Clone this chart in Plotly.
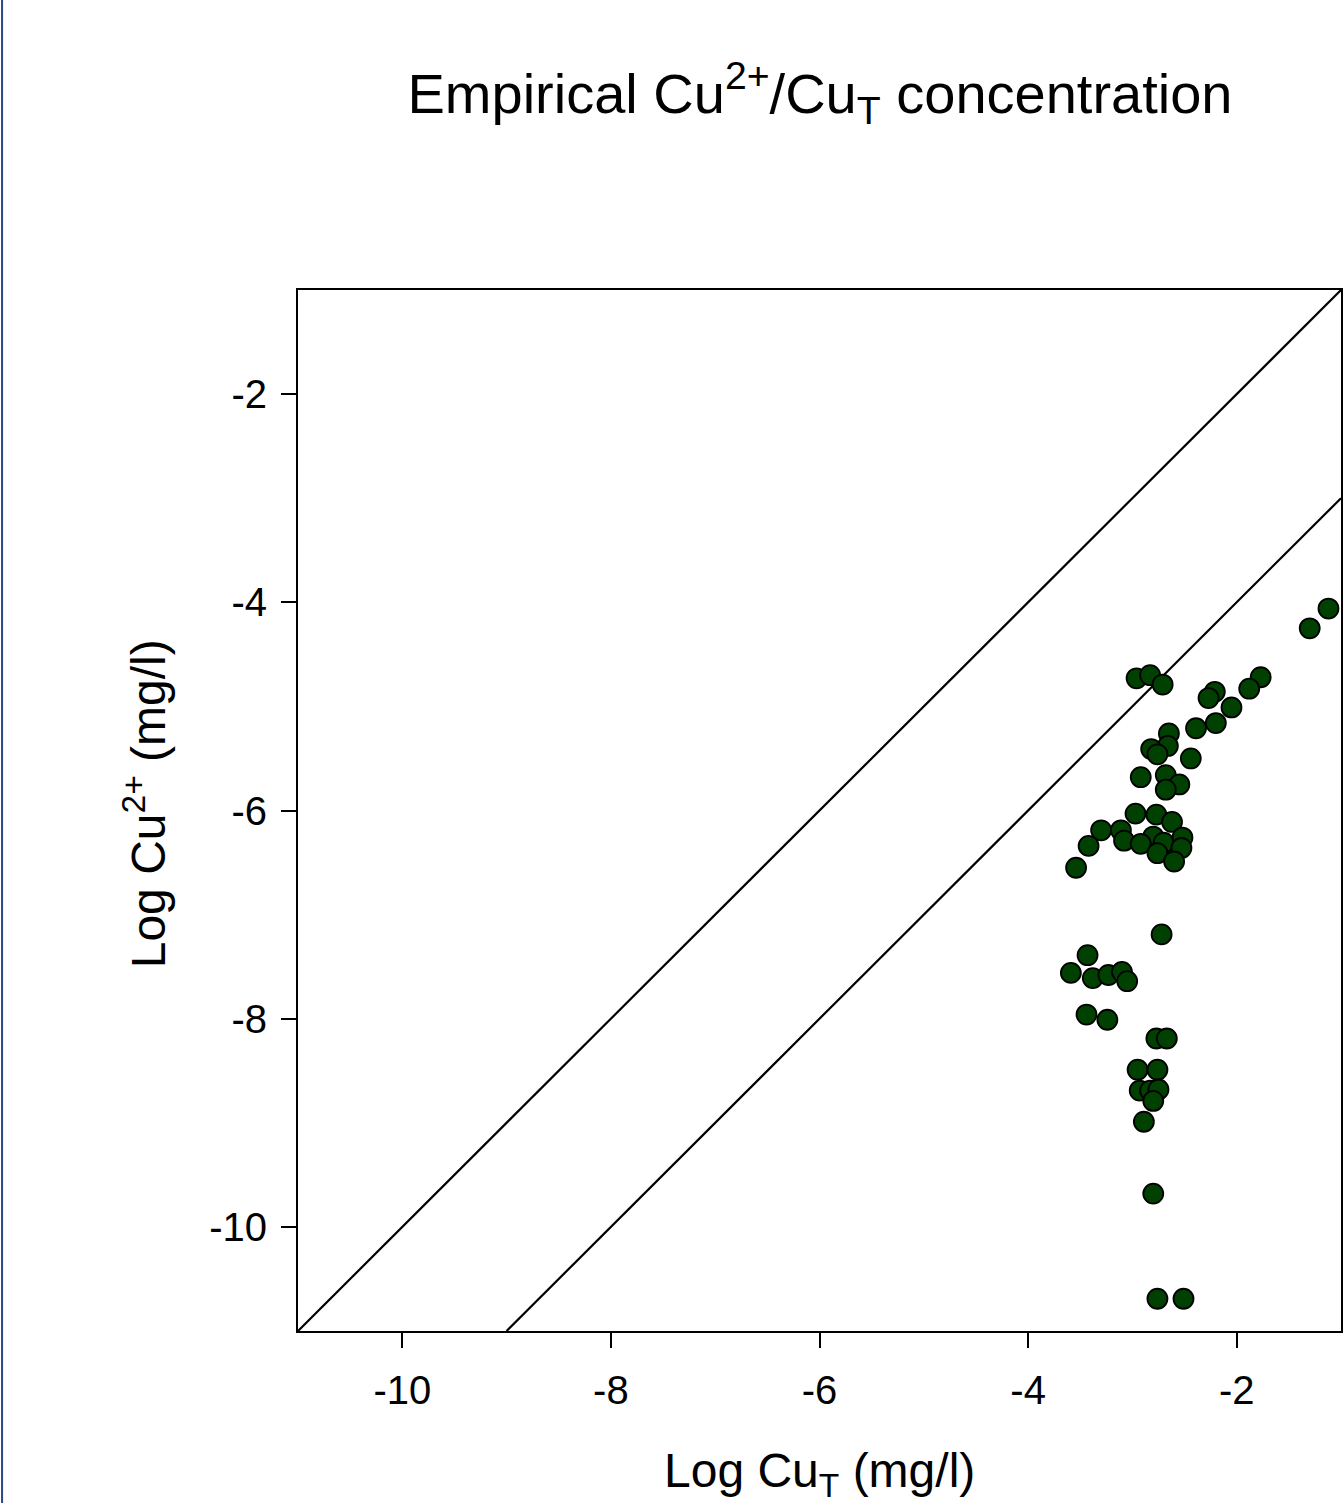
import plotly.graph_objects as go

# Scatter data: Log CuT (x) vs Log Cu2+ (y), mg/l
log_cu_t = [
    -1.12, -1.30, -2.96, -2.83, -2.71, -2.21, -2.27, -1.77, -1.88, -2.05,
    -2.20, -2.39, -2.65, -2.66, -2.82, -2.76, -2.44, -2.92, -2.68, -2.55,
    -2.68, -2.97, -2.77, -2.62, -3.30, -3.11, -3.08, -3.42, -2.80, -2.70,
    -2.92, -2.52, -2.53, -2.76, -2.60, -3.54,
    -2.72, -3.43, -3.59, -3.38, -3.23, -3.10, -3.05, -3.44, -3.24, -2.77,
    -2.67, -2.95, -2.76, -2.93, -2.83, -2.75, -2.80, -2.89, -2.80, -2.76,
    -2.51,
]
log_cu2 = [
    -4.06, -4.25, -4.73, -4.70, -4.79, -4.86, -4.92, -4.72, -4.83, -5.01,
    -5.16, -5.21, -5.26, -5.38, -5.41, -5.46, -5.50, -5.68, -5.66, -5.75,
    -5.80, -6.03, -6.04, -6.11, -6.19, -6.19, -6.29, -6.34, -6.25, -6.31,
    -6.32, -6.26, -6.36, -6.41, -6.49, -6.55,
    -7.19, -7.39, -7.56, -7.61, -7.58, -7.55, -7.64, -7.96, -8.01, -8.19,
    -8.19, -8.49, -8.49, -8.69, -8.69, -8.68, -8.79, -8.99, -9.68, -10.69,
    -10.69,
]

# Reference lines: 1:1 line and 1:100 line (offset of -2 log units)
line_1to1_x = [-11, -1]
line_1to1_y = [-11, -1]
line_offset_x = [-9, -1]
line_offset_y = [-11, -3]

tick_vals = [-10, -8, -6, -4, -2]
tick_text = ["-10", "-8", "-6", "-4", "-2"]

FONT = "Liberation Sans, Arial, sans-serif"

fig = go.Figure()
fig.add_trace(go.Scatter(x=line_1to1_x, y=line_1to1_y, mode="lines",
                         line=dict(color="black", width=2.2), showlegend=False,
                         hoverinfo="skip"))
fig.add_trace(go.Scatter(x=line_offset_x, y=line_offset_y, mode="lines",
                         line=dict(color="black", width=2.2), showlegend=False,
                         hoverinfo="skip"))
fig.add_trace(go.Scatter(x=log_cu_t, y=log_cu2, mode="markers",
                         marker=dict(size=20, color="#004000",
                                     line=dict(color="black", width=1.8)),
                         showlegend=False))

W, H = 1343, 1503
ml, mr, mt, mb = 298, 0, 290, 172
pw = W - ml - mr
ph = H - mt - mb

axis_common = dict(
    range=[-11, -1], showgrid=False, zeroline=False,
    showline=True, linecolor="black", linewidth=2, mirror=True,
    ticks="outside", ticklen=15, tickwidth=2, tickcolor="black",
    tickvals=tick_vals, ticktext=tick_text,
    tickfont=dict(family=FONT, size=40, color="black"),
)

fig.update_layout(
    width=W, height=H,
    margin=dict(l=ml, r=mr, t=mt, b=mb),
    paper_bgcolor="white", plot_bgcolor="white",
    xaxis=dict(**axis_common, ticklabelstandoff=8),
    yaxis=dict(**axis_common, ticklabelstandoff=6),
    title=dict(text="Empirical Cu<sup>2+</sup>/Cu<sub>T</sub> concentration",
               font=dict(family=FONT, size=56, color="black"),
               x=820 / W, xanchor="center", y=1 - 93 / H, yanchor="middle",
               xref="container", yref="container"),
    annotations=[
        dict(text="Log Cu<sub>T</sub> (mg/l)", xref="paper", yref="paper",
             x=0.5, y=-(1474 - (mt + ph)) / ph, xanchor="center", yanchor="middle",
             showarrow=False, font=dict(family=FONT, size=48, color="black")),
        dict(text="Log Cu<sup>2+</sup> (mg/l)", xref="paper", yref="paper",
             x=-(ml - 145) / pw, y=1 - (804 - mt) / ph, xanchor="center", yanchor="middle",
             textangle=-90, showarrow=False,
             font=dict(family=FONT, size=48, color="black")),
    ],
    shapes=[
        dict(type="line", xref="paper", yref="paper",
             x0=-(ml - 1.5) / pw, x1=-(ml - 1.5) / pw,
             y0=-mb / ph, y1=1 + mt / ph,
             line=dict(color="#2c4480", width=2)),
    ],
)

fig.write_html(
    "out.html",
    config={"displayModeBar": False},
    post_script="document.body.style.margin='0';document.body.style.overflow='hidden';",
)
